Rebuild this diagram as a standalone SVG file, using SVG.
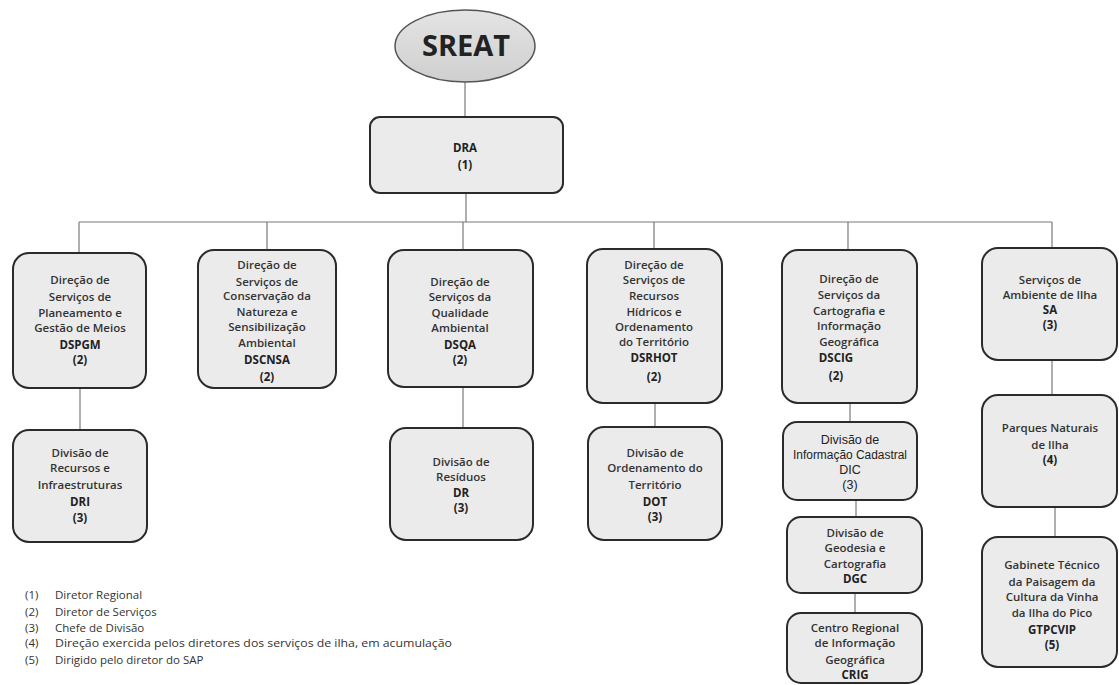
<svg xmlns="http://www.w3.org/2000/svg" width="1119" height="685" viewBox="0 0 1119 685">
<defs>
<style>
.box{fill:#ebebeb;stroke:#2b2b2b;stroke-width:2}
.t{font-family:"Open Sans","Noto Sans",sans-serif;font-size:11.5px;font-weight:600;fill:#333;text-anchor:middle}
.b{font-weight:700;fill:#222}
.n{font-family:"Liberation Sans",Arial,sans-serif;font-size:12.5px;font-weight:400;fill:#222;text-anchor:middle}
.c{fill:none;stroke:#7a7a7a;stroke-width:1.2}
.lg{font-family:"Open Sans","Noto Sans",sans-serif;font-size:11.5px;font-weight:400;fill:#333}
</style>
<linearGradient id="eg" x1="0" y1="0" x2="0" y2="1">
<stop offset="0" stop-color="#e4e4e4"/>
<stop offset="1" stop-color="#cfcfcf"/>
</linearGradient>
</defs>
<rect width="1119" height="685" fill="#ffffff"/>
<g id="connectors">
<path class="c" d="M465 82V117"/>
<path class="c" d="M466 193V222"/>
<path class="c" d="M79 222H1052"/>
<path class="c" d="M79 222V253M267 222V250M463 222V250M654 222V249M848 222V250M1052 222V248"/>
<path class="c" d="M80 388V430"/>
<path class="c" d="M463 387V428"/>
<path class="c" d="M655 403V427"/>
<path class="c" d="M850 403V422"/>
<path class="c" d="M856 500V517"/>
<path class="c" d="M855 593V613"/>
<path class="c" d="M1052 360V395"/>
<path class="c" d="M1055 507V537"/>
</g>
<g id="sreat">
<ellipse cx="465" cy="46" rx="70" ry="36" fill="url(#eg)" stroke="#555" stroke-width="1.5"/>
<text x="466" y="56" font-family="'Open Sans','Noto Sans',sans-serif" font-size="29" font-weight="700" fill="#222" text-anchor="middle">SREAT</text>
</g>
<g id="dra">
<rect class="box" x="370" y="117" width="193" height="76" rx="10"/>
<text class="t b" x="465" y="152">DRA</text>
<text class="t b" x="465" y="169">(1)</text>
</g>
<g id="dspgm">
<rect class="box" x="13" y="253" width="133" height="135" rx="16"/>
<text class="t" x="80" y="284">Direção de</text>
<text class="t" x="80" y="301">Serviços de</text>
<text class="t" x="80" y="317">Planeamento e</text>
<text class="t" x="80" y="332">Gestão de Meios</text>
<text class="t b" x="80" y="349">DSPGM</text>
<text class="t b" x="80" y="364">(2)</text>
</g>
<g id="dscnsa">
<rect class="box" x="198" y="250" width="138" height="138" rx="16"/>
<text class="t" x="267" y="269">Direção de</text>
<text class="t" x="267" y="286">Serviços de</text>
<text class="t" x="267" y="300">Conservação da</text>
<text class="t" x="267" y="316">Natureza e</text>
<text class="t" x="267" y="331">Sensibilização</text>
<text class="t" x="267" y="347">Ambiental</text>
<text class="t b" x="267" y="364">DSCNSA</text>
<text class="t b" x="267" y="381">(2)</text>
</g>
<g id="dsqa">
<rect class="box" x="388" y="250" width="145" height="137" rx="16"/>
<text class="t" x="460" y="286">Direção de</text>
<text class="t" x="460" y="301">Serviços da</text>
<text class="t" x="460" y="317">Qualidade</text>
<text class="t" x="460" y="332">Ambiental</text>
<text class="t b" x="460" y="349">DSQA</text>
<text class="t b" x="460" y="364">(2)</text>
</g>
<g id="dsrhot">
<rect class="box" x="587" y="249" width="135" height="154" rx="16"/>
<text class="t" x="654" y="269">Direção de</text>
<text class="t" x="654" y="284">Serviços de</text>
<text class="t" x="654" y="300">Recursos</text>
<text class="t" x="654" y="316">Hídricos e</text>
<text class="t" x="654" y="331">Ordenamento</text>
<text class="t" x="654" y="346">do Território</text>
<text class="t b" x="654" y="362">DSRHOT</text>
<text class="t b" x="654" y="381">(2)</text>
</g>
<g id="dscig">
<rect class="box" x="782" y="250" width="135" height="153" rx="16"/>
<text class="t" x="849" y="283">Direção de</text>
<text class="t" x="849" y="299">Serviços da</text>
<text class="t" x="849" y="315">Cartografia e</text>
<text class="t" x="849" y="330">Informação</text>
<text class="t" x="849" y="346">Geográfica</text>
<text class="t b" x="836" y="362">DSCIG</text>
<text class="t b" x="836" y="380">(2)</text>
</g>
<g id="sa">
<rect class="box" x="982" y="248" width="135" height="112" rx="16"/>
<text class="t" x="1050" y="284">Serviços de</text>
<text class="t" x="1050" y="299">Ambiente de Ilha</text>
<text class="t b" x="1050" y="314">SA</text>
<text class="t b" x="1050" y="329">(3)</text>
</g>
<g id="dri">
<rect class="box" x="13" y="430" width="134" height="112" rx="16"/>
<text class="t" x="80" y="457">Divisão de</text>
<text class="t" x="80" y="472">Recursos e</text>
<text class="t" x="80" y="489">Infraestruturas</text>
<text class="t b" x="80" y="506">DRI</text>
<text class="t b" x="80" y="522">(3)</text>
</g>
<g id="dr">
<rect class="box" x="390" y="428" width="143" height="112" rx="16"/>
<text class="t" x="461" y="466">Divisão de</text>
<text class="t" x="461" y="481">Resíduos</text>
<text class="t b" x="461" y="497">DR</text>
<text class="t b" x="461" y="512">(3)</text>
</g>
<g id="dot">
<rect class="box" x="588" y="427" width="134" height="113" rx="16"/>
<text class="t" x="655" y="457">Divisão de</text>
<text class="t" x="655" y="472">Ordenamento do</text>
<text class="t" x="655" y="489">Território</text>
<text class="t b" x="655" y="506">DOT</text>
<text class="t b" x="655" y="521">(3)</text>
</g>
<g id="dic">
<rect class="box" x="783" y="422" width="134" height="78" rx="14"/>
<text class="n" x="850" y="444">Divisão de</text>
<text class="n" x="850" y="459" textLength="114" lengthAdjust="spacingAndGlyphs">Informação Cadastral</text>
<text class="n" x="850" y="474" font-weight="700">DIC</text>
<text class="n" x="850" y="489">(3)</text>
</g>
<g id="dgc">
<rect class="box" x="787" y="517" width="135" height="76" rx="14"/>
<text class="t" x="855" y="537">Divisão de</text>
<text class="t" x="855" y="552">Geodesia e</text>
<text class="t" x="855" y="568">Cartografia</text>
<text class="t b" x="855" y="583">DGC</text>
</g>
<g id="crig">
<rect class="box" x="787" y="613" width="135" height="70" rx="14"/>
<text class="t" x="855" y="632">Centro Regional</text>
<text class="t" x="855" y="647">de Informação</text>
<text class="t" x="855" y="664">Geográfica</text>
<text class="t b" x="855" y="679">CRIG</text>
</g>
<g id="pni">
<rect class="box" x="982" y="395" width="135" height="112" rx="16"/>
<text class="t" x="1050" y="432">Parques Naturais</text>
<text class="t" x="1050" y="449">de Ilha</text>
<text class="t b" x="1050" y="464">(4)</text>
</g>
<g id="gtpcvip">
<rect class="box" x="982" y="537" width="135" height="130" rx="16"/>
<text class="t" x="1052" y="569">Gabinete Técnico</text>
<text class="t" x="1052" y="586">da Paisagem da</text>
<text class="t" x="1052" y="601">Cultura da Vinha</text>
<text class="t" x="1052" y="617">da Ilha do Pico</text>
<text class="t b" x="1052" y="634">GTPCVIP</text>
<text class="t b" x="1052" y="649">(5)</text>
</g>
<g id="legend">
<text class="lg" x="25" y="599">(1)</text><text class="lg" x="55" y="599">Diretor Regional</text>
<text class="lg" x="25" y="616">(2)</text><text class="lg" x="55" y="616">Diretor de Serviços</text>
<text class="lg" x="25" y="632">(3)</text><text class="lg" x="55" y="632">Chefe de Divisão</text>
<text class="lg" x="25" y="647">(4)</text><text class="lg" x="55" y="647" textLength="397" lengthAdjust="spacingAndGlyphs">Direção exercida pelos diretores dos serviços de ilha, em acumulação</text>
<text class="lg" x="25" y="664">(5)</text><text class="lg" x="55" y="664">Dirigido pelo diretor do SAP</text>
</g>
</svg>
